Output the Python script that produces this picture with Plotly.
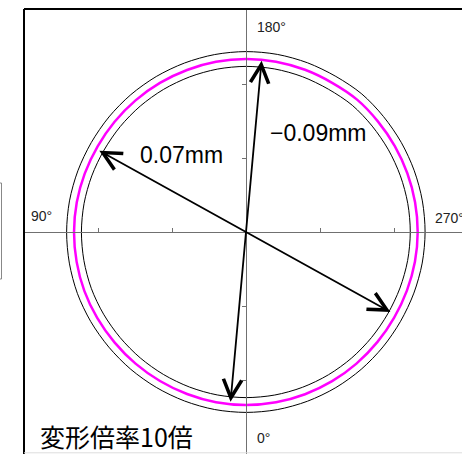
import numpy as np
import plotly.graph_objects as go

# Measured radial profile (display units), sampled every 10 degrees.
# Angle convention: 0° at the bottom, increasing clockwise (90° left, 180° top, 270° right).
angles_deg = list(range(0, 360, 10))
profile_r = [
    2.338, 2.336, 2.330, 2.325, 2.322, 2.320, 2.322, 2.325, 2.324, 2.324,
    2.322, 2.318, 2.315, 2.318, 2.322, 2.326, 2.330, 2.335, 2.338, 2.337,
    2.333, 2.328, 2.335, 2.326, 2.322, 2.320, 2.320, 2.320, 2.318, 2.314,
    2.312, 2.316, 2.322, 2.328, 2.333, 2.337,
]
band_offset = 0.10  # half-width of the tolerance band around the profile

# Diameter measurements: direction (deg), half-lengths at each end, label
arrow_angles = [119.0, 185.2]
arrow_r_start = [2.266, 2.325]
arrow_r_end = [2.254, 2.325]
arrow_labels = ["0.07mm", "\u22120.09mm"]

angle_labels = ["0°", "90°", "180°", "270°"]
scale_label = "変形倍率10倍"
tick_values = [-2, -1, 1, 2]


def to_xy(theta_deg, r):
    phi = np.deg2rad(270.0 - np.asarray(theta_deg, dtype=float))
    r = np.asarray(r, dtype=float)
    return r * np.cos(phi), r * np.sin(phi)


th = np.array(angles_deg + [angles_deg[0]], dtype=float)
pr = np.array(profile_r + [profile_r[0]])

fig = go.Figure()
for rr, color, width, smooth in [
    (pr - band_offset, "black", 1, 0.9),
    (pr + band_offset, "black", 1, 0.9),
    (pr, "#ff00ff", 2.5, 1.0),
]:
    x, y = to_xy(th, rr)
    fig.add_trace(go.Scatter(x=x, y=y, mode="lines",
                             line=dict(color=color, width=width,
                                       shape="spline", smoothing=smooth),
                             hoverinfo="skip", showlegend=False))

# Double-headed diameter arrows
for ang, r0, r1 in zip(arrow_angles, arrow_r_start, arrow_r_end):
    xa, ya = to_xy(ang, r0)
    xb, yb = to_xy(ang + 180.0, r1)
    fig.add_annotation(x=float(xa), y=float(ya), ax=float(xb), ay=float(yb),
                       xref="x", yref="y", axref="x", ayref="y",
                       text="", showarrow=True, arrowside="end+start",
                       arrowhead=5, startarrowhead=5,
                       arrowsize=2.0, startarrowsize=2.0,
                       arrowwidth=1.8, arrowcolor="black")

label_font = dict(family="Liberation Sans, Arial", size=23, color="black")
for txt, (lx, ly) in zip(arrow_labels, [(-0.878, 1.04), (0.973, 1.338)]):
    fig.add_annotation(x=lx, y=ly, xref="x", yref="y", text=txt,
                       showarrow=False, font=label_font,
                       xanchor="center", yanchor="middle")

deg_font = dict(family="Liberation Sans, Arial", size=14, color="#222222")
for txt, (lx, ly) in zip(angle_labels,
                         [(0.12, -2.78), (-2.93, 0.216), (0.12, 2.77), (2.527, 0.19)]):
    fig.add_annotation(x=lx, y=ly, xref="x", yref="y", text=txt,
                       showarrow=False, font=deg_font,
                       xanchor="left", yanchor="middle")

fig.add_annotation(x=-2.81, y=-2.757, xref="x", yref="y", text=scale_label,
                   showarrow=False,
                   font=dict(family="Noto Sans CJK JP", size=25, color="black"),
                   xanchor="left", yanchor="middle")

W, H = 462, 454
left_px, top_px = 24, 9
cx_px, cy_px = 246, 232

shapes = [
    # frame
    dict(type="line", xref="paper", yref="paper",
         x0=left_px / W, x1=1.02, y0=1 - top_px / H, y1=1 - top_px / H,
         line=dict(color="black", width=2)),
    dict(type="line", xref="paper", yref="paper",
         x0=left_px / W, x1=left_px / W, y0=-0.02, y1=1 - top_px / H,
         line=dict(color="black", width=2)),
    # faint base line
    dict(type="line", xref="paper", yref="paper",
         x0=left_px / W, x1=1.0, y0=1.2 / H, y1=1.2 / H,
         line=dict(color="#dddddd", width=1)),
    # side bracket
    dict(type="rect", xref="paper", yref="paper",
         x0=-4 / W, x1=1.5 / W, y0=1 - 279 / H, y1=1 - 183 / H,
         line=dict(color="#888888", width=1)),
]

axis_common = dict(showgrid=False, zeroline=False, showticklabels=False,
                   showline=True, linecolor="#707070", linewidth=1,
                   ticks="outside", ticklen=4, tickcolor="#707070", tickwidth=1,
                   tickvals=tick_values, fixedrange=True, anchor="free")

fig.update_layout(
    width=W, height=H,
    margin=dict(l=0, r=0, t=0, b=0),
    paper_bgcolor="white", plot_bgcolor="white",
    xaxis=dict(domain=[left_px / W, 1.0],
               range=[(left_px - cx_px) / 74.0, (W - cx_px) / 74.0],
               side="top", position=1 - cy_px / H, **axis_common),
    yaxis=dict(domain=[0.0, 1 - top_px / H],
               range=[(cy_px - H) / 74.0, (cy_px - top_px) / 74.0],
               side="left", position=cx_px / W, **axis_common),
    shapes=shapes,
)

fig.write_html("out.html")
